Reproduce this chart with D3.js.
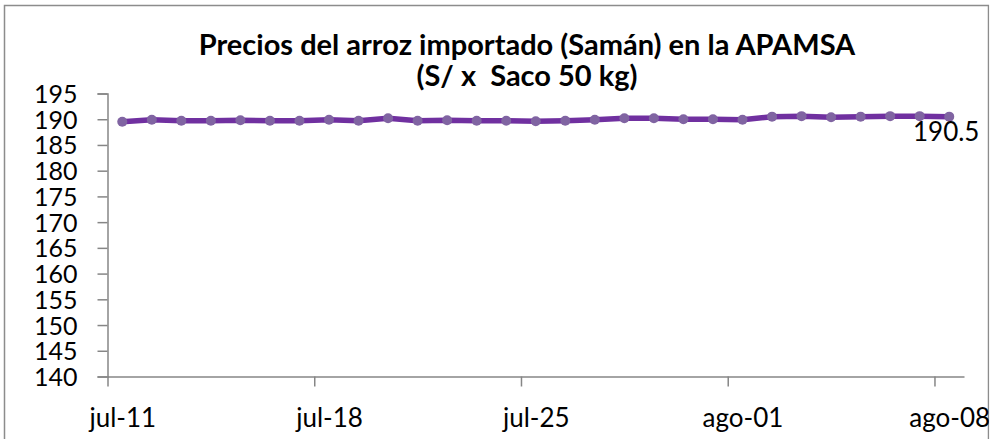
<!DOCTYPE html>
<html>
<head>
<meta charset="utf-8">
<script src="https://cdn.jsdelivr.net/npm/d3@7"></script>
<style>
  body { margin: 0; background: #fff; }
  text { font-family: Lato, "Open Sans", sans-serif; }
</style>
</head>
<body>
<script>
// daily prices, jul-11 .. ago-08
const dates = [
  '2019-07-11', '2019-07-12', '2019-07-13', '2019-07-14', '2019-07-15', '2019-07-16', '2019-07-17',
  '2019-07-18', '2019-07-19', '2019-07-20', '2019-07-21', '2019-07-22', '2019-07-23', '2019-07-24',
  '2019-07-25', '2019-07-26', '2019-07-27', '2019-07-28', '2019-07-29', '2019-07-30', '2019-07-31',
  '2019-08-01', '2019-08-02', '2019-08-03', '2019-08-04', '2019-08-05', '2019-08-06', '2019-08-07',
  '2019-08-08'
];
const prices = [
  189.5, 189.9, 189.7, 189.7, 189.8, 189.7, 189.7,
  189.9, 189.7, 190.2, 189.7, 189.8, 189.7, 189.7,
  189.6, 189.7, 189.9, 190.2, 190.2, 190.0, 190.0,
  189.9, 190.5, 190.6, 190.4, 190.5, 190.6, 190.6,
  190.5
];
const yTicks = [140, 145, 150, 155, 160, 165, 170, 175, 180, 185, 190, 195];
const titleLines = ['Precios del arroz importado (Samán) en la APAMSA', '(S/ x  Saco 50 kg)'];
const meses = ['ene', 'feb', 'mar', 'abr', 'may', 'jun', 'jul', 'ago', 'sep', 'oct', 'nov', 'dic'];

const W = 1001, H = 439;
const parse = d3.timeParse('%Y-%m-%d');
const data = dates.map((d, i) => ({ date: parse(d), value: prices[i] }));

const svg = d3.select('body').append('svg')
  .attr('width', W)
  .attr('height', H);

// chart frame
svg.append('rect')
  .attr('x', 4.5).attr('y', 5.5)
  .attr('width', 984).attr('height', 445)
  .attr('fill', '#fff')
  .attr('stroke', '#8c8c8c')
  .attr('stroke-width', 1.5);

const day = 24 * 3600 * 1000;
const x0 = data[0].date;
const x1 = new Date(+data[data.length - 1].date + day);

const x = d3.scaleTime().domain([x0, x1]).range([107.5, 964]);
const y = d3.scaleLinear().domain([140, 195]).range([376.5, 93.5]);

const axisColor = '#868686';

// y axis
const yAxis = svg.append('g')
  .attr('transform', 'translate(107.5,0)')
  .call(d3.axisLeft(y).tickValues(yTicks).tickSize(10).tickPadding(20).tickFormat(d3.format('d')));
yAxis.select('.domain').attr('stroke', axisColor).attr('stroke-width', 1.5);
yAxis.selectAll('.tick line').attr('stroke', axisColor).attr('stroke-width', 1.5);
yAxis.selectAll('.tick text')
  .attr('fill', '#000')
  .attr('font-size', 25)
  .attr('dy', '0.36em')
  .attr('font-family', 'Lato, sans-serif');

// x axis, weekly ticks, label centred on the day
const xTicks = d3.range(0, 5).map(k => new Date(+x0 + k * 7 * day));
const xAxis = svg.append('g')
  .attr('transform', 'translate(0,376.5)')
  .call(d3.axisBottom(x).tickValues(xTicks).tickSize(10).tickSizeOuter(0)
    .tickFormat(d => meses[d.getMonth()] + '-' + d3.timeFormat('%d')(d)));
xAxis.select('.domain').attr('stroke', axisColor).attr('stroke-width', 1.5);
xAxis.selectAll('.tick line').attr('stroke', axisColor).attr('stroke-width', 1.5);
const halfDay = x(new Date(+x0 + day / 2)) - x(x0);
xAxis.selectAll('.tick text')
  .attr('fill', '#000')
  .attr('font-size', 26)
  .attr('x', halfDay)
  .attr('y', 50)
  .attr('dy', 0)
  .attr('font-family', 'Lato, sans-serif');

// line + markers
const px = d => x(new Date(+d.date + day / 2));
const line = d3.line().x(px).y(d => y(d.value));

svg.append('path')
  .datum(data)
  .attr('d', line)
  .attr('fill', 'none')
  .attr('stroke', '#7030a0')
  .attr('stroke-width', 5.5)
  .attr('stroke-linejoin', 'round');

svg.append('g')
  .selectAll('circle')
  .data(data)
  .enter()
  .append('circle')
  .attr('cx', px)
  .attr('cy', d => y(d.value))
  .attr('r', 5)
  .attr('fill', '#8064a2');

// last value label
const last = data[data.length - 1];
svg.append('text')
  .attr('x', px(last) - 3)
  .attr('y', y(last.value) + 24)
  .attr('text-anchor', 'middle')
  .attr('font-size', 26)
  .text(last.value.toFixed(1));

// title
svg.append('g')
  .selectAll('text')
  .data(titleLines)
  .enter()
  .append('text')
  .attr('x', 527)
  .attr('y', (d, i) => 55 + i * 31)
  .attr('text-anchor', 'middle')
  .attr('font-size', 29)
  .attr('font-weight', 'bold')
  .attr('style', 'white-space: pre')
  .text(d => d);

// clip anything beyond the frame
svg.append('rect')
  .attr('x', 989.3).attr('y', 0)
  .attr('width', W - 989.3).attr('height', H)
  .attr('fill', '#fff');
</script>
</body>
</html>
